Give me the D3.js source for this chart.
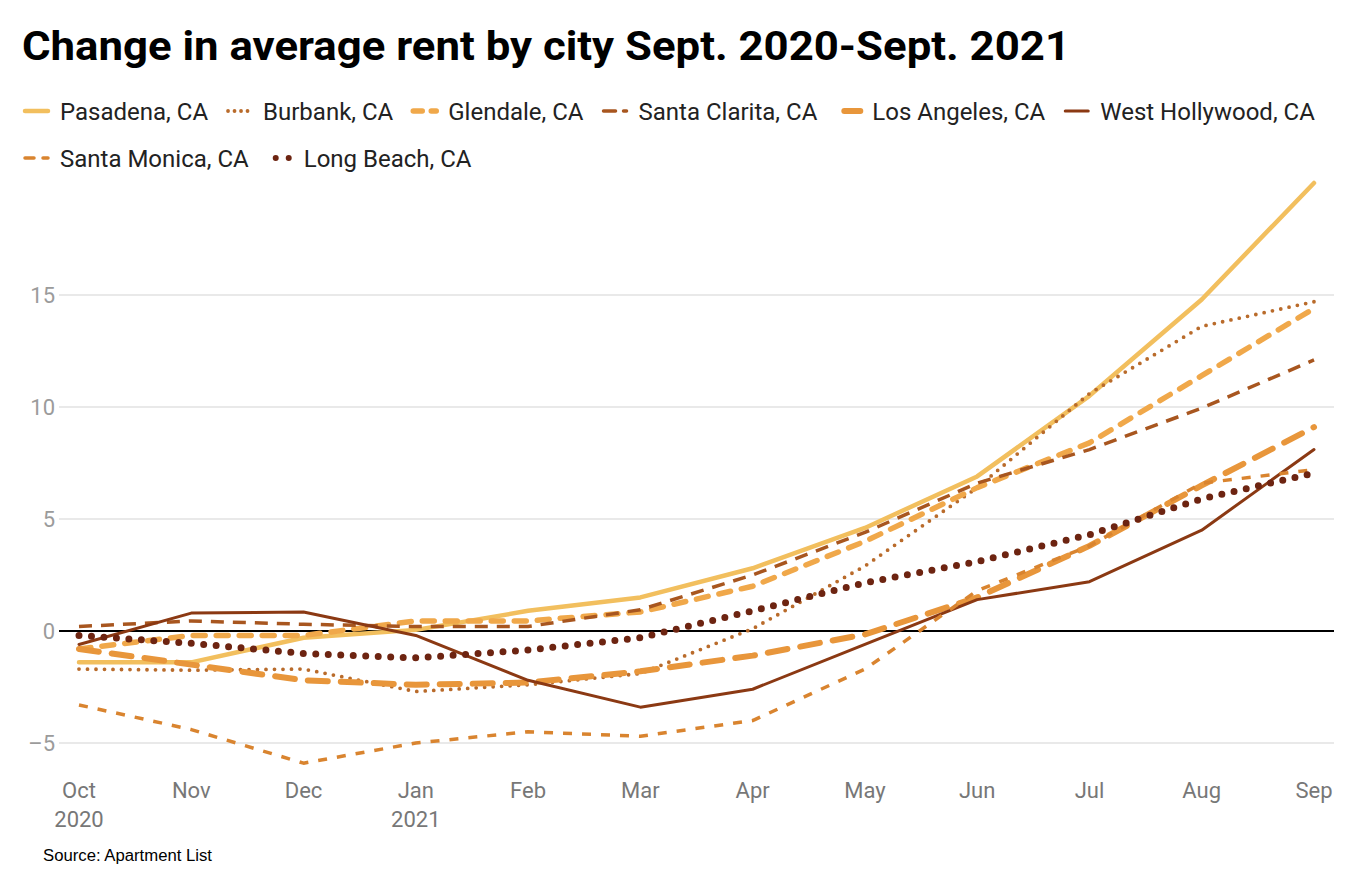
<!DOCTYPE html>
<html>
<head>
<meta charset="utf-8">
<script src="https://cdn.jsdelivr.net/npm/d3@7"></script>
<style>
  body { margin: 0; background: #fff; }
  svg { display: block; font-family: Roboto, "Noto Sans", sans-serif; }
</style>
</head>
<body>
<svg id="chart" width="1353" height="873"></svg>
<script>
// values (percent change in average rent)
var months = ["Oct", "Nov", "Dec", "Jan", "Feb", "Mar", "Apr", "May", "Jun", "Jul", "Aug", "Sep"];
var years = ["2020", "", "", "2021", "", "", "", "", "", "", "", ""];
var yTicks = [-5, 0, 5, 10, 15];

var cities = ["Pasadena, CA", "Burbank, CA", "Glendale, CA", "Santa Clarita, CA",
  "Los Angeles, CA", "West Hollywood, CA", "Santa Monica, CA", "Long Beach, CA"];

var pasadena = [-1.4, -1.4, -0.3, 0.05, 0.9, 1.5, 2.8, 4.6, 6.9, 10.5, 14.8, 20.0];
var burbank = [-1.7, -1.75, -1.7, -2.7, -2.4, -1.9, 0.1, 2.9, 6.4, 10.6, 13.6, 14.7];
var glendale = [-0.8, -0.2, -0.2, 0.45, 0.45, 0.85, 2.0, 4.0, 6.4, 8.4, 11.4, 14.4];
var santaClarita = [0.2, 0.45, 0.3, 0.2, 0.2, 0.95, 2.5, 4.4, 6.6, 8.1, 9.95, 12.1];
var losAngeles = [-0.8, -1.5, -2.2, -2.4, -2.3, -1.8, -1.1, -0.15, 1.5, 3.8, 6.5, 9.1];
var westHollywood = [-0.6, 0.8, 0.85, -0.2, -2.2, -3.4, -2.6, -0.6, 1.4, 2.2, 4.5, 8.1];
var santaMonica = [-3.3, -4.4, -5.9, -5.0, -4.5, -4.7, -4.0, -1.7, 1.8, 3.8, 6.6, 7.2];
var longBeach = [-0.2, -0.55, -1.0, -1.2, -0.85, -0.3, 0.9, 2.15, 3.1, 4.3, 5.9, 7.05];

var seriesValues = [pasadena, burbank, glendale, santaClarita, losAngeles, westHollywood, santaMonica, longBeach];

// line styles per city
var colors = ["#f2bf5e", "#b96b2b", "#f0a84a", "#a8561f", "#e8963b", "#8b3913", "#d9842f", "#6d2411"];
var widths = [4.5, 3.8, 5.5, 3.5, 6, 3, 3.5, 7];
var dashes = ["none", "0 8.5", "12 11", "13 9", "20 13", "none", "9 10", "0 12.5"];
var caps = ["round", "round", "round", "butt", "round", "round", "butt", "round"];
var legendDashes = ["none", "0 6.5", "9 9", "12 8", "20 13", "none", "9 9", "0 13"];

var svg = d3.select('#chart');

var x = d3.scalePoint().domain(months).range([79, 1314]);
var y = d3.scaleLinear().domain([-5, 15]).range([743, 295]);

// title
var title = svg.append('text').attr('x', 22).attr('y', 60)
  .style('font-size', '41px').style('font-weight', 700).style('fill', '#000')
  .text('Change in average rent by city Sept. 2020-Sept. 2021');
title.attr('textLength', 1048).attr('lengthAdjust', 'spacingAndGlyphs');

// legend
var legend = svg.append('g').attr('class', 'legend');
var lx = 22, ly = 111, rowH = 47, maxX = 1335;
cities.forEach(function(name, i) {
  var item = legend.append('g');
  var x0 = (i === 4 || i === 7) ? 10 : 3;
  item.append('line')
    .attr('x1', x0).attr('x2', 26).attr('y1', 0).attr('y2', 0)
    .style('stroke', colors[i]).style('stroke-width', Math.min(widths[i], 6))
    .style('stroke-dasharray', legendDashes[i]).style('stroke-linecap', 'round');
  var t = item.append('text').attr('x', 38).attr('y', 8.5)
    .style('font-size', '24px').style('fill', '#222').text(name);
  var w = 38 + t.node().getComputedTextLength();
  if (lx + w > maxX) { lx = 22; ly += rowH; }
  item.attr('transform', 'translate(' + lx + ',' + ly + ')');
  lx += w + 17;
});

// grid lines
svg.append('g').selectAll('line.grid').data(yTicks.filter(function(d) { return d !== 0; }))
  .enter().append('line').attr('class', 'grid')
  .attr('x1', 59).attr('x2', 1334)
  .attr('y1', function(d) { return y(d); }).attr('y2', function(d) { return y(d); })
  .style('stroke', '#e2e2e2').style('stroke-width', 1.5);

// y labels
svg.append('g').selectAll('text.ytick').data(yTicks)
  .enter().append('text').attr('class', 'ytick')
  .attr('x', 55).attr('y', function(d) { return y(d) + 8; })
  .attr('text-anchor', 'end')
  .style('font-size', '22px').style('fill', '#9b9b9b')
  .text(function(d) { return d < 0 ? '\u2013' + Math.abs(d) : d; });

// x labels
var xl = svg.append('g').selectAll('text.xtick').data(months)
  .enter().append('text').attr('class', 'xtick')
  .attr('text-anchor', 'middle')
  .attr('x', function(d) { return x(d); }).attr('y', 798)
  .style('font-size', '22px').style('fill', '#777');
xl.append('tspan').attr('x', function(d) { return x(d); }).text(function(d) { return d; });
xl.append('tspan').attr('x', function(d) { return x(d); }).attr('dy', 29)
  .text(function(d, i) { return years[i]; });

// zero line
svg.append('line').attr('x1', 59).attr('x2', 1334).attr('y1', y(0)).attr('y2', y(0))
  .style('stroke', '#000').style('stroke-width', 2);

// series
var line = d3.line()
  .x(function(d, i) { return x(months[i]); })
  .y(function(d) { return y(d); });

svg.append('g').selectAll('path.series').data(seriesValues)
  .enter().append('path').attr('class', 'series')
  .attr('d', line)
  .style('fill', 'none')
  .style('stroke', function(d, i) { return colors[i]; })
  .style('stroke-width', function(d, i) { return widths[i]; })
  .style('stroke-dasharray', function(d, i) { return dashes[i]; })
  .style('stroke-linecap', function(d, i) { return caps[i]; })
  .style('stroke-linejoin', 'round');

// source
svg.append('text').attr('x', 43).attr('y', 861)
  .style('font-family', '"Liberation Sans", Arial, sans-serif')
  .style('font-size', '16px').style('fill', '#000')
  .attr('textLength', 169).attr('lengthAdjust', 'spacingAndGlyphs')
  .text('Source: Apartment List');
</script>
</body>
</html>
